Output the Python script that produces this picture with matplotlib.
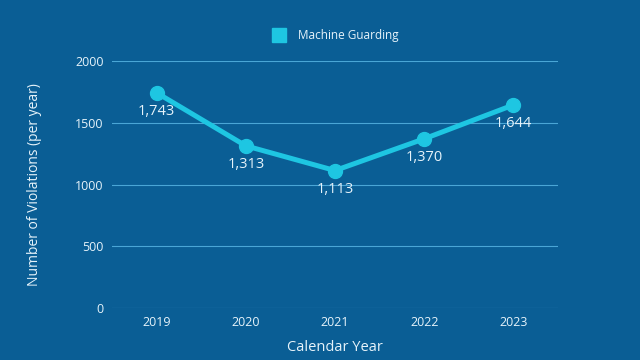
import matplotlib
matplotlib.use("Agg")
import matplotlib.pyplot as plt
from matplotlib.lines import Line2D

years = ["2019", "2020", "2021", "2022", "2023"]
violations = [1743, 1313, 1113, 1370, 1644]
series_name = "Machine Guarding"
yticks = [0, 500, 1000, 1500, 2000]

bg = "#0a5e95"
line_c = "#1ec6e2"
grid_c = "#4aa6d6"
text_c = "#e6f3fa"

plt.rcParams['font.family'] = ['Open Sans', 'DejaVu Sans']

fig = plt.figure(figsize=(6.4, 3.6), dpi=100, facecolor=bg)
ax = fig.add_axes([112/640, 1-308/360, (558-112)/640, (308-61)/360], facecolor=bg)

x = list(range(len(years)))
ax.plot(x, violations, color=line_c, lw=3.6, marker='o', markersize=10,
        solid_capstyle='round', zorder=3)
for xi, v in zip(x, violations):
    ax.annotate(f"{v:,}", (xi, v), xytext=(0, -13.5), textcoords='offset points',
                ha='center', va='center', color=text_c, fontsize=10.5, zorder=4)

ax.set_xlim(-0.5, len(years) - 0.5)
ax.set_ylim(0, 2000)
ax.set_yticks(yticks)
ax.set_yticklabels([str(t) for t in yticks])
ax.set_xticks(x)
ax.set_xticklabels(years)
ax.grid(axis='y', color=grid_c, lw=0.8)
ax.set_axisbelow(True)
for s in ax.spines.values():
    s.set_visible(False)
ax.tick_params(length=0, colors=text_c, labelsize=9)
ax.tick_params(axis='y', pad=6)
ax.tick_params(axis='x', pad=6)
ax.set_xlabel("Calendar Year", color=text_c, fontsize=10.5, labelpad=8)
ax.set_ylabel("Number of Violations (per year)", color=text_c, fontsize=10, labelpad=24)

handle = Line2D([], [], color=line_c, marker='s', linestyle='None', markersize=10)
leg = fig.legend([handle], [series_name], loc='center', bbox_to_anchor=(333/640, 1-36/360),
                 frameon=False, fontsize=8.5, labelcolor=text_c, handletextpad=0.6)

fig.savefig("out.png", dpi=100, facecolor=bg)
